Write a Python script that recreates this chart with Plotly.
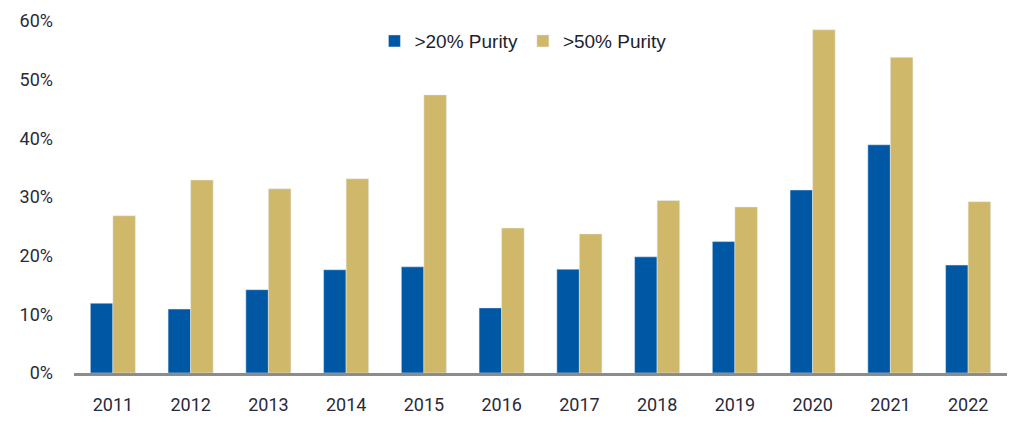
import plotly.graph_objects as go

years = ["2011","2012","2013","2014","2015","2016","2017","2018","2019","2020","2021","2022"]
purity20 = [11.9, 10.9, 14.2, 17.6, 18.1, 11.1, 17.7, 19.8, 22.4, 31.2, 38.9, 18.4]
purity50 = [26.8, 32.9, 31.4, 33.1, 47.4, 24.7, 23.7, 29.4, 28.3, 58.5, 53.8, 29.2]
yticks = [0, 10, 20, 30, 40, 50, 60]
ytick_labels = [f"{v}%" for v in yticks]

BLUE = "#0057a3"
GOLD = "#cfb869"

fig = go.Figure()
fig.add_trace(go.Bar(x=years, y=purity20, name=">20% Purity", marker_color=BLUE))
fig.add_trace(go.Bar(x=years, y=purity50, name=">50% Purity", marker_color=GOLD))

fig.update_layout(
    width=1016, height=420,
    margin=dict(l=66, r=17, t=13, b=55, autoexpand=False),
    paper_bgcolor="white", plot_bgcolor="white",
    barmode="group", bargap=0.42, bargroupgap=0,
    font=dict(family="Roboto", color="#2a2a3a", size=18),
    legend=dict(orientation="h", x=0.322, y=0.943, xanchor="left", yanchor="middle",
                font=dict(family="Liberation Sans", size=19, color="#1e1e30"),
                itemwidth=30, traceorder="normal", bgcolor="rgba(0,0,0,0)"),
    showlegend=True,
)
fig.update_xaxes(showline=True, linecolor="#8c8c8c", linewidth=3, showgrid=False,
                 ticks="", ticklabelstandoff=13, tickfont=dict(size=18), automargin=False)
fig.update_yaxes(range=[0, 60], tickvals=yticks, ticktext=ytick_labels, showgrid=False,
                 zeroline=False, showline=False, ticks="", ticklabelstandoff=20,
                 tickfont=dict(size=18), automargin=False)

fig.write_html("out.html")
